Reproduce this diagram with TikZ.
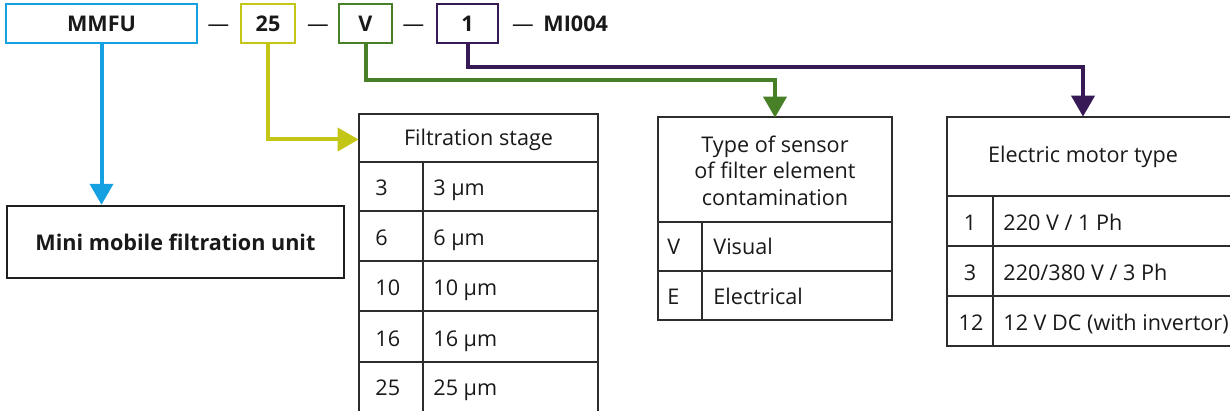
\documentclass[tikz,border=0pt]{standalone}
\usepackage{fontspec}
\setmainfont{Open Sans}
\usetikzlibrary{arrows.meta}
\definecolor{cblue}{RGB}{20,160,225}
\definecolor{cyel}{RGB}{195,198,20}
\definecolor{cgreen}{RGB}{72,128,40}
\definecolor{cpurple}{RGB}{55,25,85}
\definecolor{cline}{RGB}{45,45,45}
\definecolor{ctext}{RGB}{25,25,25}
\begin{document}
\begin{tikzpicture}[x=0.5pt,y=-0.5pt,
  font=\fontsize{10.8}{13.25}\selectfont, text=ctext,
  codebox/.style={draw, line width=0.85pt, inner sep=0pt, minimum height=19.5pt, font=\fontsize{10.8}{13.25}\selectfont\bfseries},
  dashtxt/.style={anchor=base, inner sep=0pt},
  conn/.style={line width=2pt, -{Triangle[width=11.5pt,length=10.5pt]}},
  grid/.style={draw=cline, line width=0.75pt},
  hdr/.style={inner sep=0pt, align=center},
  cell/.style={anchor=base west, inner sep=0pt},
  cellc/.style={anchor=base, inner sep=0pt},
]
\useasboundingbox (0,0) rectangle (1230,411);
\clip (0,0) rectangle (1230,411);

% code line
\node[codebox, draw=cblue, minimum width=95.5pt] (mmfu) at (101.5,23.5) {MMFU};
\node[codebox, draw=cyel, minimum width=27pt] (c25) at (268,23.5) {25};
\node[codebox, draw=cgreen, minimum width=26.5pt] (cv) at (365.5,23.5) {V};
\node[codebox, draw=cpurple, minimum width=30.5pt] (c1) at (467.5,23.5) {1};
\node[dashtxt] (d1) at (218.5,32) {—};
\node[dashtxt] (d2) at (318,32) {—};
\node[dashtxt] (d3) at (413.5,32) {—};
\node[dashtxt] (d4) at (523,32) {—};
\node[anchor=base west, inner sep=0pt, font=\fontsize{10.8}{13.25}\selectfont\bfseries] (mi) at (543,32) {MI004};

% mini box
\node[draw=black!88, line width=1.2pt, minimum width=168.5pt, minimum height=36pt, inner sep=0pt,
      font=\fontsize{10.8}{13.25}\selectfont\bfseries] (mini) at (175.5,242) {Mini mobile filtration unit};

% filtration table
\draw[grid] (359,114) rectangle (598,440);
\foreach \yy in {162,211,261,311,362} \draw[grid] (359,\yy) -- (598,\yy);
\draw[grid] (423,162) -- (423,440);
\node[hdr, minimum width=119.5pt, minimum height=24pt] (fhead) at (478.5,139.5) {Filtration stage};
\node[cell] (f1a) at (375,196) {3};   \node[cell] (f1b) at (433,196) {3 µm};
\node[cell] (f2a) at (375,245.5) {6}; \node[cell] (f2b) at (433,245.5) {6 µm};
\node[cell] (f3a) at (375,295.5) {10}; \node[cell] (f3b) at (433,295.5) {10 µm};
\node[cell] (f4a) at (375,346) {16};  \node[cell] (f4b) at (433,346) {16 µm};
\node[cell] (f5a) at (375,395.5) {25}; \node[cell] (f5b) at (433,395.5) {25 µm};

% sensor table
\draw[grid] (658,117) rectangle (892,320);
\draw[grid] (658,222) -- (892,222);
\draw[grid] (658,271) -- (892,271);
\draw[grid] (702,222) -- (702,320);
\node[hdr, minimum width=117pt, minimum height=52.5pt] (shead) at (775,170.5) {Type of sensor\\of filter element\\contamination};
\node[cell] (s1a) at (667,255) {V}; \node[cell] (s1b) at (713,255) {Visual};
\node[cell] (s2a) at (667,304) {E}; \node[cell] (s2b) at (713,304) {Electrical};

% motor table
\draw[grid] (947,117) rectangle (1250,346);
\foreach \yy in {196,246,296} \draw[grid] (947,\yy) -- (1250,\yy);
\draw[grid] (993,196) -- (993,346);
\node[hdr, minimum width=136pt, minimum height=39.5pt] (mhead) at (1083,156.5) {Electric motor type};
\node[cellc] (m1a) at (970,230) {1};  \node[cell] (m1b) at (1003,230) {220 V / 1 Ph};
\node[cellc] (m2a) at (970,280) {3};  \node[cell] (m2b) at (1003,280) {220/380 V / 3 Ph};
\node[cellc] (m3a) at (971,330) {12}; \node[cell] (m3b) at (1003,330) {12 V DC (with invertor)};

% connectors
\draw[conn, cblue] (mmfu.south) -- (mmfu.south |- mini.north);
\draw[conn, cyel] (c25.south) |- (fhead.west);
\draw[conn, cgreen] (cv.south) -- ++(0,36) -| (shead.north);
\draw[conn, cpurple] (c1.south) -- ++(0,23) -| (mhead.north);
\end{tikzpicture}
\end{document}
